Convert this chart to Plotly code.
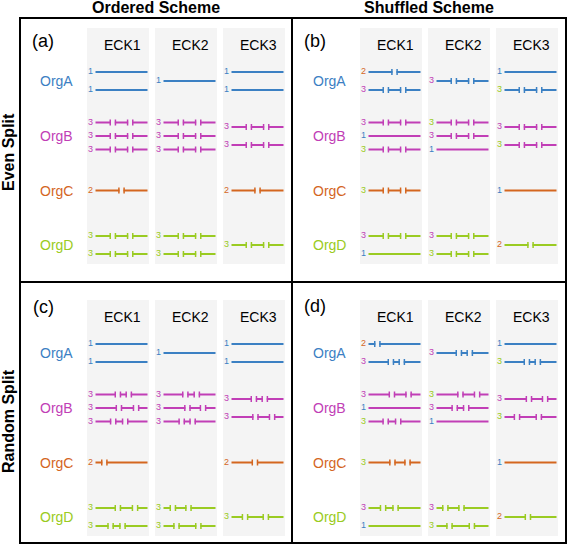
import plotly.graph_objects as go

# ---------------- data ----------------
ORGS = ["OrgA", "OrgB", "OrgC", "OrgD"]
ECKS = ["ECK1", "ECK2", "ECK3"]
SCHEMES = ["Ordered Scheme", "Shuffled Scheme"]
SPLITS = ["Even Split", "Random Split"]
PANEL_TAGS = [["(a)", "(b)"], ["(c)", "(d)"]]
ORG_COLORS = ["#3b80c3", "#c13eb6", "#d4661f", "#9acb22"]

# number of parts of each line, per ECK, per org
ordered_parts = [
    [[1, 1], [3, 3, 3], [2], [3, 3]],
    [[1], [3, 3, 3], [], [3, 3]],
    [[1, 1], [3, 3], [2], [3]],
]
shuffled_parts = [
    [[2, 3], [3, 1, 3], [3], [3, 1]],
    [[3], [3, 3, 1], [], [3, 3]],
    [[1, 3], [3, 3], [1], [2]],
]
# org whose colour the part-count label takes (shuffled scheme)
shuffled_src = [
    [[2, 1], [1, 0, 3], [3], [1, 0]],
    [[1], [3, 1, 0], [], [1, 3]],
    [[0, 3], [1, 3], [0], [2]],
]
# cut positions (fraction of line length) for the random split
random_cuts_ordered = [
    [[[], []], [[0.43, 0.64], [0.45, 0.78], [0.34, 0.57]], [[0.17]], [[0.43, 0.76], [0.29, 0.52]]],
    [[[]], [[0.42, 0.64], [0.46, 0.76], [0.35, 0.56]], [], [[0.18, 0.48], [0.25, 0.67]]],
    [[[], []], [[0.43, 0.64], [0.46, 0.78]], [[0.45]], [[0.26, 0.66]]],
]
random_cuts_shuffled = [
    [[[0.17], [0.43, 0.64]], [[0.45, 0.77], [], [0.33, 0.57]], [[0.46, 0.75]], [[0.28, 0.52], []]],
    [[[0.43, 0.64]], [[0.46, 0.78], [0.35, 0.57], []], [], [[0.17, 0.48], [0.25, 0.68]]],
    [[[], [0.43, 0.64]], [[0.47, 0.78], [0.24, 0.66]], [[]], [[0.45]]],
]

# ---------------- layout constants ----------------
W, H = 567, 545
FONT = "Liberation Sans, Arial, Helvetica, sans-serif"
PANEL_DX = [0, 273]
PANEL_DY = [0, 272]
TAG_POS = [[(43, 41), (315, 41)], [(43, 307), (315, 306)]]
COL_LEFT = [87, 155, 223]
COL_W = 62
BG_TOP, BG_BOT = 28, 264
ECK_Y = 45
ORG_Y = [81, 136, 190.5, 245]
ORG_X = 56
OFFSETS = {1: [0], 2: [-9, 9], 3: [-13.5, 0, 13.5]}
GAP = 4.0
TICK = 3.0
LW = 2

fig = go.Figure()
shapes = []
annotations = []

def ann(x, y, text, size, color="black", bold=False, angle=0, xanchor="center"):
    annotations.append(dict(
        x=x, y=y, xref="x", yref="y", text=f"<b>{text}</b>" if bold else text,
        showarrow=False, textangle=angle, xanchor=xanchor, yanchor="middle",
        font=dict(family=FONT, size=size, color=color)))

# segment coordinates per colour
seg_x = {i: [] for i in range(4)}
seg_y = {i: [] for i in range(4)}
tick_x = {i: [] for i in range(4)}
tick_y = {i: [] for i in range(4)}

def add_line(org, x0, x1, y, cuts):
    xs = [x0] + [x0 + c * (x1 - x0) for c in cuts] + [x1]
    n = len(xs) - 1
    for i in range(n):
        a = xs[i] + (GAP / 2 if i > 0 else 0)
        b = xs[i + 1] - (GAP / 2 if i < n - 1 else 0)
        seg_x[org] += [a, b, None]
        seg_y[org] += [y, y, None]
        if i > 0:
            tick_x[org] += [a + 0.6, a + 0.6, None]
            tick_y[org] += [y - TICK, y + TICK, None]
        if i < n - 1:
            tick_x[org] += [b - 0.6, b - 0.6, None]
            tick_y[org] += [y - TICK, y + TICK, None]

for r in range(2):          # split
    for c in range(2):      # scheme
        dx, dy = PANEL_DX[c], PANEL_DY[r]
        parts = ordered_parts if c == 0 else shuffled_parts
        tx, ty = TAG_POS[r][c]
        ann(tx, ty, PANEL_TAGS[r][c], 18)
        for o, org in enumerate(ORGS):
            ann(ORG_X + dx, ORG_Y[o] + dy, org, 14, ORG_COLORS[o])
        for e, eck in enumerate(ECKS):
            L = COL_LEFT[e] + dx
            shapes.append(dict(type="rect", xref="x", yref="y", x0=L, x1=L + COL_W,
                               y0=BG_TOP + dy, y1=BG_BOT + dy, fillcolor="#f4f4f4",
                               line=dict(width=0), layer="below"))
            ann(L + 35, ECK_Y + dy, eck, 14)
            for o in range(4):
                plist = parts[e][o]
                offs = OFFSETS.get(len(plist), [])
                for k, p in enumerate(plist):
                    y = ORG_Y[o] + dy + offs[k]
                    src = o if c == 0 else shuffled_src[e][o][k]
                    if r == 0:
                        cuts = [j / p for j in range(1, p)]
                    else:
                        cuts = (random_cuts_ordered if c == 0 else random_cuts_shuffled)[e][o][k]
                    add_line(o, L + 8.5, L + 60.5, y, cuts)
                    ann(L + 3.8, y - 0.8, str(p), 9, ORG_COLORS[src])

for o in range(4):
    fig.add_trace(go.Scatter(x=seg_x[o], y=seg_y[o], mode="lines",
                             line=dict(color=ORG_COLORS[o], width=LW),
                             hoverinfo="skip", showlegend=False))
    fig.add_trace(go.Scatter(x=tick_x[o], y=tick_y[o], mode="lines",
                             line=dict(color=ORG_COLORS[o], width=1.5),
                             hoverinfo="skip", showlegend=False))

# titles
ann(156, 7, SCHEMES[0], 16, bold=True)
ann(429, 7, SCHEMES[1], 16, bold=True)
ann(8, 152, SPLITS[0], 16, bold=True, angle=-90)
ann(8, 421, SPLITS[1], 16, bold=True, angle=-90)

# frame
bc = dict(color="black", width=2)
shapes += [
    dict(type="rect", xref="x", yref="y", x0=20, x1=566, y0=18, y1=543, line=bc),
    dict(type="line", xref="x", yref="y", x0=292, x1=292, y0=18, y1=543, line=bc),
    dict(type="line", xref="x", yref="y", x0=20, x1=566, y0=282, y1=282, line=bc),
]

fig.update_layout(
    width=W, height=H, margin=dict(l=0, r=0, t=0, b=0),
    paper_bgcolor="white", plot_bgcolor="white",
    xaxis=dict(range=[0, W], visible=False, fixedrange=True),
    yaxis=dict(range=[H, 0], visible=False, fixedrange=True),
    shapes=shapes, annotations=annotations, showlegend=False,
)
fig.write_html("out.html", config={"displayModeBar": False},
               post_script="document.body.style.margin='0';document.body.style.overflow='hidden';")
